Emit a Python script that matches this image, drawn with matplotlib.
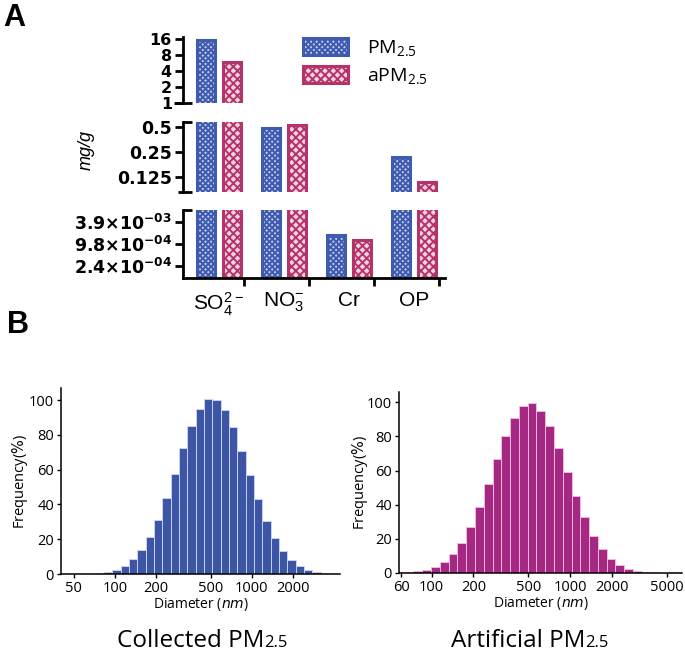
import numpy as np
import matplotlib
matplotlib.use("Agg")
import matplotlib.pyplot as plt
from matplotlib.patches import Patch
from matplotlib.ticker import FixedLocator, NullLocator

plt.rcParams['mathtext.default'] = 'regular'
plt.rcParams['hatch.linewidth'] = 1.4

# ---------------- Panel A data ----------------
categories = ['SO$_4^{2-}$', 'NO$_3^{-}$', 'Cr', 'OP']
pm25 = [15.0, 0.48, 1.74e-3, 0.219]
apm25 = [6.0, 0.525, 1.22e-3, 0.11]
series_names = ['PM$_{2.5}$', 'aPM$_{2.5}$']

top_ticks = [1, 2, 4, 8, 16]
top_labels = ['1', '2', '4', '8', '16']
mid_ticks = [0.125, 0.25, 0.5]
mid_labels = ['0.125', '0.25', '0.5']
bot_ticks = [2 ** -12, 2 ** -10, 2 ** -8]
bot_labels = ['2.4\u00d710$^{-04}$', '9.8\u00d710$^{-04}$', '3.9\u00d710$^{-03}$']

# ---------------- Panel B data ----------------
collected_first_edge = 41.1
collected_log_step = 0.061
collected_freq = [0.05, 0.1, 0.1, 0.2, 0.5, 1.3, 2.3, 4.8, 8.4, 13.8, 21, 31, 43.7,
                  57.5, 72.2, 84.9, 95, 100.4, 100, 94.6, 84.3, 71, 56.7, 43.1,
                  30.6, 20.7, 13.2, 8, 4.6, 2.3, 1.1, 0.5, 0.2]
collected_ticks = [50, 100, 200, 500, 1000, 2000]

artificial_first_edge = 55.1
artificial_log_step = 0.0635
artificial_freq = [0.4, 0.7, 1.2, 1.9, 3.8, 6.6, 11.2, 17.8, 26.8, 38.8, 52, 66.6,
                   80, 91, 97.7, 99.6, 95, 86, 73.4, 59, 45, 32.6, 21.9, 14, 8.2,
                   4.8, 2.4, 1.2, 0.6, 0.3, 0.2, 0.5, 0.3]
artificial_ticks = [60, 100, 200, 500, 1000, 2000, 5000]
freq_ticks = [0, 20, 40, 60, 80, 100]

W, H = 685, 653
fig = plt.figure(figsize=(W / 100, H / 100), dpi=100)

def fx(px):
    return px / W

def fy(py):
    return 1 - py / H

BLUE = '#3F5BB0'
PINK = '#B5336B'
BLUE_FACE = '#c3ccec'
PINK_FACE = '#f3d3e0'
tick_font = dict(family='DejaVu Sans', weight='bold', size=12.5)

segments = [
    (37, 103, (1, 17.4), top_ticks, top_labels),
    (122, 192, (2 ** -3.6, 2 ** -0.8), mid_ticks, mid_labels),
    (210, 278, (2 ** -13.09, 2 ** -6.91), bot_ticks, bot_labels),
]
x_left, x_right = 183, 445
idx = np.arange(len(categories))
xlim = (-0.554, 3.48)
for i, (t, b, yl, ticks, labels) in enumerate(segments):
    ax = fig.add_axes([fx(x_left), fy(b), fx(x_right - x_left), (b - t) / H])
    ax.set_yscale('log', base=2)
    lo = yl[0] / 2
    ax.bar(idx - 0.2, np.array(pm25) - lo, bottom=lo, width=0.27, facecolor=BLUE_FACE,
           edgecolor=BLUE, hatch='xxxxxx', linewidth=2.2)
    ax.bar(idx + 0.2, np.array(apm25) - lo, bottom=lo, width=0.27, facecolor=PINK_FACE,
           edgecolor=PINK, hatch='xxxx', linewidth=2.2)
    ax.set_ylim(*yl)
    ax.set_xlim(*xlim)
    ax.yaxis.set_major_locator(FixedLocator(ticks))
    ax.yaxis.set_minor_locator(NullLocator())
    fd = dict(tick_font)
    if i == 0:
        fd['size'] = 11.5
    ax.set_yticklabels(labels, fontdict=fd)
    ax.tick_params(axis='y', direction='out', length=6, width=2, pad=2)
    for s in ['top', 'right']:
        ax.spines[s].set_visible(False)
    ax.spines['left'].set_linewidth(2)
    ax.patch.set_visible(False)
    cap = 9 / (x_right - x_left)
    if i == 0:
        ax.plot([-0.035, cap], [0, 0], transform=ax.transAxes, color='black', lw=2,
                clip_on=False, solid_capstyle='butt')
    else:
        ax.plot([0, cap], [1, 1], transform=ax.transAxes, color='black', lw=2,
                clip_on=False, solid_capstyle='butt')
        if i == 1:
            ax.plot([-0.02, cap], [0, 0], transform=ax.transAxes, color='black', lw=2,
                    clip_on=False, solid_capstyle='butt')
    if i < 2:
        ax.spines['bottom'].set_visible(False)
        ax.set_xticks([])
    else:
        ax.spines['bottom'].set_linewidth(2)
        ax.xaxis.set_major_locator(FixedLocator(idx + 0.385))
        ax.xaxis.set_minor_locator(FixedLocator(idx))
        ax.set_xticklabels([''] * len(idx))
        ax.set_xticklabels(categories, minor=True, fontdict=dict(family='Liberation Sans', size=15))
        ax.tick_params(axis='x', which='major', direction='out', length=6, width=2)
        ax.tick_params(axis='x', which='minor', length=0, pad=9)

fig.text(fx(86), fy(150), 'mg/g', rotation=90, ha='center', va='center',
         family='Liberation Sans', style='italic', size=13)

handles = [Patch(facecolor=BLUE_FACE, edgecolor=BLUE, hatch='xxxxxx', linewidth=2.2),
           Patch(facecolor=PINK_FACE, edgecolor=PINK, hatch='xxxx', linewidth=2.2)]
fig.legend(handles, series_names, loc='upper left', bbox_to_anchor=(fx(303), fy(38)),
           frameon=False, handlelength=2.3, handleheight=0.95, labelspacing=0.4,
           handletextpad=1.0, borderpad=0, borderaxespad=0,
           prop=dict(family='Open Sans', size=14))

fig.text(fx(3), fy(3), 'A', ha='left', va='top', weight='bold', size=22, family='Liberation Sans')
fig.text(fx(7), fy(310), 'B', ha='left', va='top', weight='bold', size=22, family='Liberation Sans')

# ---------------- Panel B ----------------
hist_font = 'Open Sans'
renderer = fig.canvas.get_renderer()

def caption(cx, main, small):
    base_y = fy(647)
    t1 = fig.text(0, base_y, main, ha='left', va='baseline', family='Open Sans', size=17.5)
    t2 = fig.text(0, base_y, small, ha='left', va='baseline', family='Open Sans', size=12)
    w1 = t1.get_window_extent(renderer).width / W
    w2 = t2.get_window_extent(renderer).width / W
    x0 = cx - (w1 + w2) / 2
    t1.set_x(x0)
    t2.set_x(x0 + w1)

def hist_panel(rect, first_edge, log_step, freq, color, edge, ticks, xlim, ylim, ylab_x):
    ax = fig.add_axes(rect)
    edges = first_edge * 10 ** (log_step * np.arange(len(freq) + 1))
    ax.bar(edges[:-1], freq, width=np.diff(edges), align='edge', color=color,
           edgecolor=edge, linewidth=0.7)
    ax.set_xscale('log')
    ax.set_xlim(*xlim)
    ax.set_ylim(*ylim)
    ax.xaxis.set_major_locator(FixedLocator(ticks))
    ax.xaxis.set_minor_locator(NullLocator())
    ax.set_xticklabels([str(t) for t in ticks], family=hist_font, size=10.5)
    ax.yaxis.set_major_locator(FixedLocator(freq_ticks))
    ax.set_yticklabels([str(t) for t in freq_ticks], family=hist_font, size=10.5)
    ax.tick_params(direction='out', length=3, width=1, pad=2)
    for s in ['top', 'right']:
        ax.spines[s].set_visible(False)
    for s in ['left', 'bottom']:
        ax.spines[s].set_linewidth(1.1)
    ax.set_xlabel('Diameter ($\\mathit{nm}$)', family=hist_font, size=10, labelpad=0)
    ax.set_ylabel('Frequency($\\mathit{\\%}$)', family=hist_font, size=10.5)
    ax.yaxis.set_label_coords(ylab_x, 0.5)
    return ax

hist_panel([fx(61), fy(574), fx(279), (574 - 388) / H], collected_first_edge,
           collected_log_step, collected_freq, '#3D55A5', '#c9d2f0', collected_ticks,
           (40.3, 4426), (0, 107), -0.112)
hist_panel([fx(399), fy(573), fx(283), (573 - 392) / H], artificial_first_edge,
           artificial_log_step, artificial_freq, '#A52882', '#f2b8df', artificial_ticks,
           (58, 6450), (0, 106), -0.104)
caption(fx(202), 'Collected PM', '2.5')
caption(fx(530), 'Artificial PM', '2.5')

fig.savefig('out.png', dpi=100)
